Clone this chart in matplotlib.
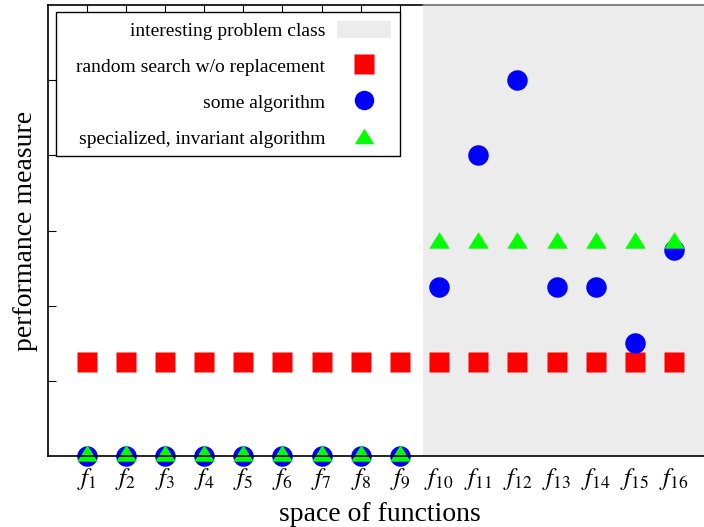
import numpy as np
import matplotlib
matplotlib.use("Agg")
import matplotlib.pyplot as plt
from matplotlib.lines import Line2D
from matplotlib.patches import Patch, Rectangle

plt.rcParams["font.family"] = ["Liberation Serif", "DejaVu Serif"]
plt.rcParams["mathtext.fontset"] = "stix"

# data
funcs = np.arange(1, 17)
tick_labels = [f"$f_{{{i}}}$" for i in funcs]
random_search = [1.25] * 16
some_algo = [0, 0, 0, 0, 0, 0, 0, 0, 0, 2.25, 4.0, 5.0, 2.25, 2.25, 1.5, 2.74]
special_x = funcs
special_y = [0.04] * 9 + [2.88] * 7
shade_start = 9.6

W, H = 704, 527
x0, y0, step = 47.5, 456, 39.16   # pixel layout of the axes
fig = plt.figure(figsize=(W / 100, H / 100), dpi=100)
# axes runs a bit past the right edge of the picture (cropped like the original)
ax = fig.add_axes([x0 / W, 1 - y0 / H, 17 * step / W, 451 / H])
ax.set_xlim(0, 17)
ax.set_ylim(0, 6)

ax.axvspan(shade_start, 20, color="#ececec", zorder=0, lw=0)

tri = [(-1, -0.8), (1, -0.8), (0, 0.8)]
ms = 20.5 * 0.72
ax.plot(funcs, random_search, ls="none", marker="s", ms=ms, color="#ff0000",
        mec="none", zorder=2, clip_on=False)
ax.plot(funcs, some_algo, ls="none", marker="o", ms=ms, color="#0000ff",
        mec="none", zorder=2.1, clip_on=False)
ax.plot(special_x, special_y, ls="none", marker=tri, ms=ms, color="#00ff00",
        mec="none", zorder=2.2, clip_on=False)

# spines
for s in ["right", "top"]:
    ax.spines[s].set_visible(False)
for s in ["left", "bottom"]:
    ax.spines[s].set_zorder(3)
    ax.spines[s].set_linewidth(1.2)
ax.plot([0, shade_start], [1, 1], transform=ax.get_xaxis_transform(), color="black",
        lw=1.2, clip_on=False, zorder=3)
ax.plot([shade_start, 20], [1, 1], transform=ax.get_xaxis_transform(), color="#707070",
        lw=1.2, clip_on=False, zorder=3)

ax.set_xticks(funcs)
ax.set_xticklabels(tick_labels, fontsize=18)
ax.tick_params(axis="x", bottom=False, pad=4)
ax.set_yticks([1, 2, 3, 4, 5])
ax.set_yticklabels([])
ax.tick_params(axis="y", direction="in", length=6, width=0.8)

top = ax.secondary_xaxis("top")
top.set_xticks(funcs[:9])
top.set_xticklabels([])
top.tick_params(direction="in", length=6, width=0.8)
top.spines["top"].set_visible(False)

ax.set_xlabel("space of functions", fontsize=20, labelpad=7)
ax.set_ylabel("performance measure", fontsize=20, labelpad=3)

handles = [
    Patch(facecolor="#ececec", edgecolor="none"),
    Line2D([], [], ls="none", marker="s", ms=ms * 0.95, color="#ff0000", mec="none"),
    Line2D([], [], ls="none", marker="o", ms=ms * 0.95, color="#0000ff", mec="none"),
    Line2D([], [], ls="none", marker=tri, ms=ms * 0.95, color="#00ff00", mec="none"),
]
labels = ["interesting problem class", "random search w/o replacement",
          "some algorithm", "specialized, invariant algorithm"]
leg = ax.legend(handles, labels, loc="upper right",
                bbox_to_anchor=(400 / W, 1 - 12 / H), bbox_transform=fig.transFigure,
                borderaxespad=0, markerfirst=False, fontsize=14, frameon=False,
                labelspacing=0.85, handlelength=2.8, handleheight=1.0,
                handletextpad=0.6, borderpad=0.45)
for t in leg.get_texts():
    t.set_ha("right")
leg.set_zorder(5)
# legend frame: wider on the left than matplotlib's symmetric padding
ax.add_patch(Rectangle((56 / W, 1 - 156 / H), 344 / W, 144 / H,
                       transform=fig.transFigure, facecolor="white",
                       edgecolor="black", lw=1.0, zorder=4, clip_on=False))

fig.savefig("out.png", dpi=100)
